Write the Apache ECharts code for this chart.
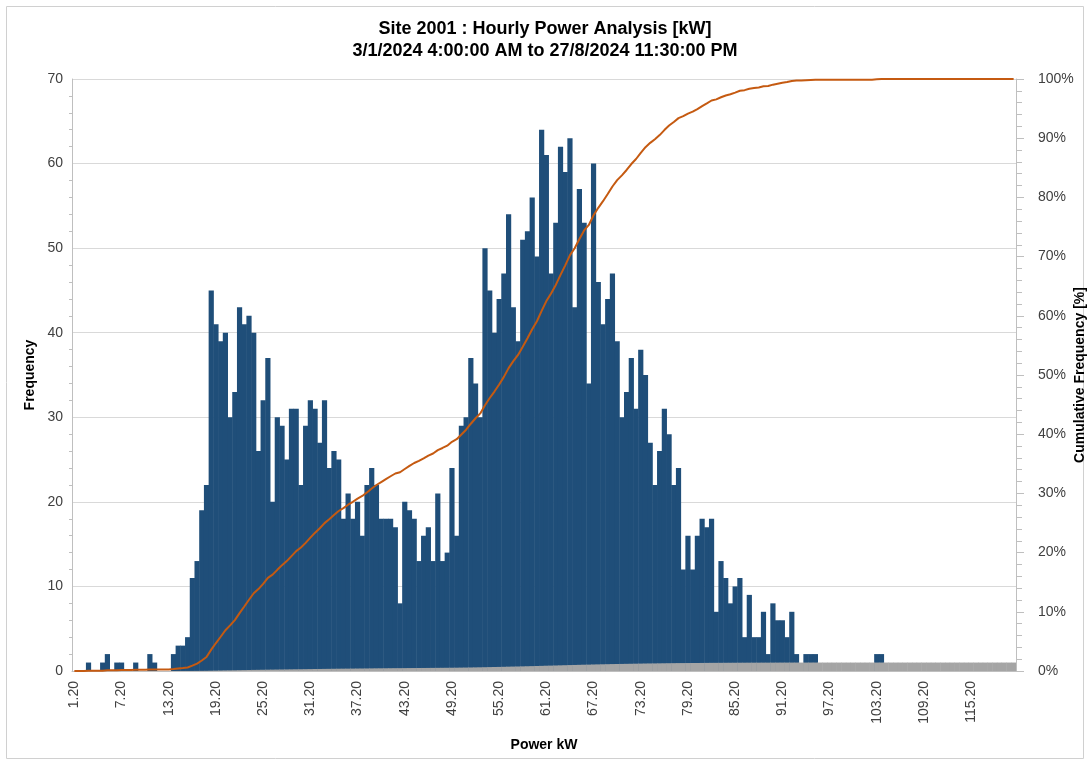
<!DOCTYPE html>
<html>
<head>
<meta charset="utf-8">
<script src="https://cdn.jsdelivr.net/npm/echarts/dist/echarts.min.js"></script>
<style>
  html, body { margin: 0; padding: 0; background: #fff; }
  #chart { width: 1090px; height: 765px; }
</style>
</head>
<body>
<div id="chart"></div>
<script>
// histogram bins: 0.6 kW wide starting at 1.20 kW
const binStart = 1.2;
const binWidth = 0.6;
const binCount = 200;

// frequency per bin
const frequency = [
  0, 0, 0, 1, 0, 0, 1, 2, 0, 1,
  1, 0, 0, 1, 0, 0, 2, 1, 0, 0,
  0, 2, 3, 3, 4, 11, 13, 19, 22, 45,
  41, 39, 40, 30, 33, 43, 41, 42, 40, 26,
  32, 37, 20, 30, 29, 25, 31, 31, 22, 29,
  32, 31, 27, 32, 24, 26, 25, 18, 21, 18,
  20, 16, 22, 24, 22, 18, 18, 18, 17, 8,
  20, 19, 18, 13, 16, 17, 13, 21, 13, 14,
  24, 16, 29, 30, 37, 34, 30, 50, 45, 40,
  44, 47, 54, 43, 39, 51, 52, 56, 49, 64,
  61, 47, 53, 62, 59, 63, 43, 57, 53, 34,
  60, 46, 41, 44, 47, 39, 30, 33, 37, 31,
  38, 35, 27, 22, 26, 31, 28, 22, 24, 12,
  16, 12, 16, 18, 17, 18, 7, 13, 11, 8,
  10, 11, 4, 9, 4, 4, 7, 2, 8, 6,
  6, 4, 7, 2, 0, 2, 2, 2, 0, 0,
  0, 0, 0, 0, 0, 0, 0, 0, 0, 0,
  2, 2, 0, 0, 0, 0, 0, 0, 0, 0,
  0, 0, 0, 0, 0, 0, 0, 0, 0, 0,
  0, 0, 0, 0, 0, 0, 0, 0, 0, 0
];

const titleLines = [
  "Site 2001 : Hourly Power Analysis [kW]",
  "3/1/2024 4:00:00 AM to 27/8/2024 11:30:00 PM"
];

// category labels (bin start values)
const categories = [];
for (let i = 0; i < binCount; i++) {
  categories.push((binStart + binWidth * i).toFixed(2));
}

// cumulative share (0..1) of the counts above
const total = frequency.reduce((a, b) => a + b, 0);
const cumulative = [];
let running = 0;
frequency.forEach((v) => {
  running += v;
  cumulative.push(running / total);
});

const fontFamily = "'Liberation Sans', Arial, sans-serif";
const myChart = echarts.init(document.getElementById("chart"));

const option = {
  animation: false,
  textStyle: { fontFamily: fontFamily },
  title: {
    text: titleLines.join("\n"),
    left: "center",
    top: 13,
    textStyle: {
      fontSize: 18,
      fontWeight: "bold",
      color: "#000",
      lineHeight: 22,
      fontFamily: fontFamily,
    },
  },
  graphic: [
    {
      type: "rect",
      shape: { x: 6.5, y: 6.5, width: 1077, height: 752 },
      style: { fill: "none", stroke: "#d0d0d0", lineWidth: 1 },
      silent: true,
    },
  ],
  grid: {
    left: 72,
    right: 74,
    top: 79,
    bottom: 94,
    containLabel: false,
    outerBoundsMode: "none",
  },
  xAxis: {
    type: "category",
    data: categories,
    name: "Power kW",
    nameLocation: "middle",
    nameGap: 67,
    nameMoveOverlap: false,
    nameTextStyle: { fontSize: 14, fontWeight: "bold", color: "#000" },
    axisLine: { lineStyle: { color: "#bfbfbf" } },
    axisTick: {
      interval: 4,
      length: 5,
      lineStyle: { color: "#bfbfbf" },
    },
    axisLabel: {
      interval: 9,
      rotate: 90,
      fontSize: 14,
      color: "#404040",
      margin: 10,
    },
  },
  yAxis: [
    {
      type: "value",
      min: 0,
      max: 70,
      interval: 10,
      name: "Frequency",
      nameLocation: "middle",
      nameGap: 35,
      nameMoveOverlap: false,
      nameTextStyle: { fontSize: 14, fontWeight: "bold", color: "#000" },
      axisLine: { show: true, lineStyle: { color: "#bfbfbf" } },
      axisTick: { show: false },
      minorTick: { show: true, splitNumber: 5, length: 3, lineStyle: { color: "#bfbfbf" } },
      axisLabel: { fontSize: 14, color: "#404040", margin: 9 },
      splitLine: { lineStyle: { color: "#d9d9d9" } },
    },
    {
      type: "value",
      min: 0,
      max: 1,
      interval: 0.1,
      position: "right",
      name: "Cumulative Frequency [%]",
      nameLocation: "middle",
      nameGap: 57,
      nameRotate: 90,
      nameMoveOverlap: false,
      nameTextStyle: { fontSize: 14, fontWeight: "bold", color: "#000" },
      axisLine: { show: true, lineStyle: { color: "#bfbfbf" } },
      axisTick: { show: true, length: 8, lineStyle: { color: "#bfbfbf" } },
      minorTick: { show: true, splitNumber: 5, length: 6, lineStyle: { color: "#bfbfbf" } },
      axisLabel: {
        fontSize: 14,
        color: "#404040",
        margin: 22,
        formatter: (v) => Math.round(v * 100) + "%",
      },
      splitLine: { show: false },
    },
  ],
  series: [
    {
      name: "Frequency",
      type: "bar",
      data: frequency,
      barWidth: 5.2,
      barGap: "-100%",
      itemStyle: { color: "#1f4e79" },
    },
    {
      name: "Cumulative share",
      type: "bar",
      data: cumulative,
      barWidth: 5.2,
      barGap: "-100%",
      itemStyle: { color: "#a5a5a5" },
    },
    {
      name: "Cumulative %",
      type: "line",
      yAxisIndex: 1,
      data: cumulative,
      showSymbol: false,
      lineStyle: { color: "#c55a11", width: 2 },
      itemStyle: { color: "#c55a11" },
    },
  ],
};
myChart.setOption(option);
</script>
</body>
</html>
